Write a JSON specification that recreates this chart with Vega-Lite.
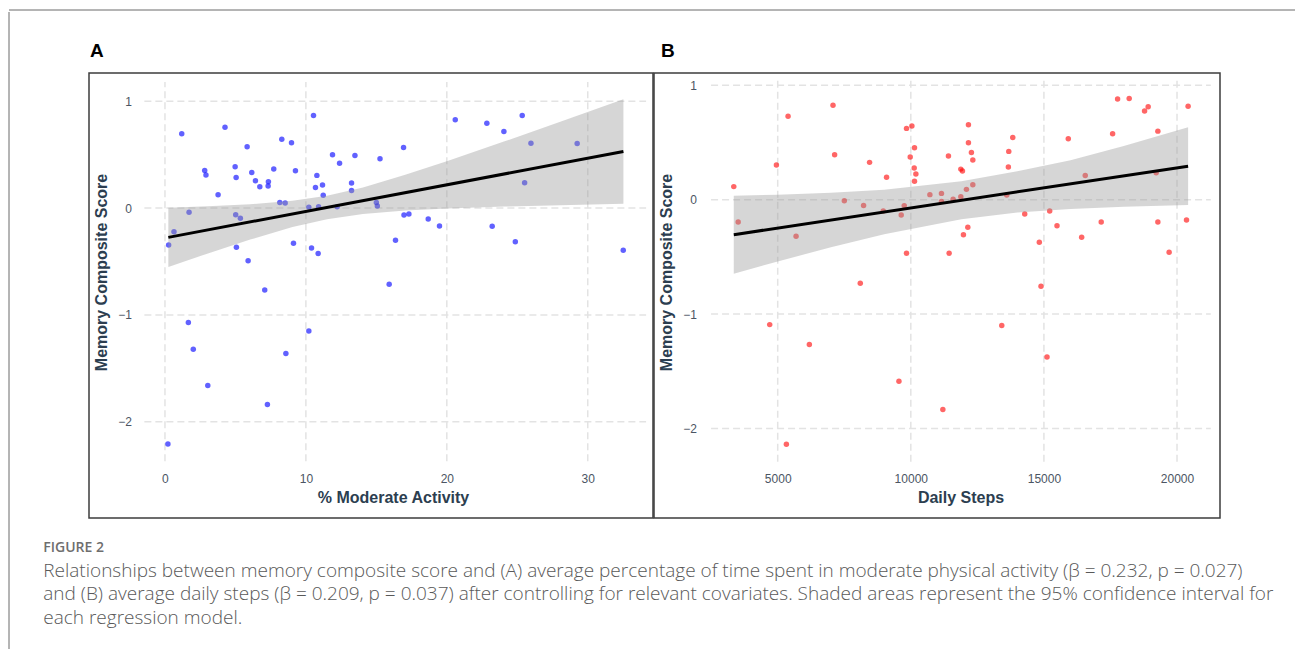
{
  "$schema": "https://vega.github.io/schema/vega-lite/v6.json",
  "padding": {"left": 8, "top": 9, "right": 0, "bottom": 0},
  "background": "white",
  "spacing": 0,
  "datasets": {
    "ptsA": [
      {"x":1.19,"y":0.695},{"x":4.26,"y":0.757},{"x":5.83,"y":0.574},{"x":8.29,"y":0.645},{"x":8.98,"y":0.611},{"x":10.54,"y":0.866},{"x":11.89,"y":0.499},{"x":13.48,"y":0.493},{"x":12.39,"y":0.42},{"x":15.26,"y":0.461},{"x":2.82,"y":0.352},{"x":2.91,"y":0.309},{"x":4.98,"y":0.387},{"x":5.05,"y":0.287},{"x":6.16,"y":0.334},{"x":6.42,"y":0.256},{"x":6.73,"y":0.2},{"x":7.34,"y":0.247},{"x":7.32,"y":0.206},{"x":7.72,"y":0.365},{"x":9.26,"y":0.35},{"x":10.78,"y":0.306},{"x":10.68,"y":0.193},{"x":11.18,"y":0.215},{"x":11.23,"y":0.121},{"x":13.24,"y":0.234},{"x":13.24,"y":0.165},{"x":3.77,"y":0.125},{"x":8.15,"y":0.053},{"x":8.53,"y":0.047},{"x":10.21,"y":0.009},{"x":10.9,"y":0.013},{"x":12.22,"y":0.013},{"x":15.0,"y":0.053},{"x":15.07,"y":0.019},{"x":1.71,"y":-0.04},{"x":0.64,"y":-0.221},{"x":0.26,"y":-0.346},{"x":5.02,"y":-0.062},{"x":5.35,"y":-0.096},{"x":5.07,"y":-0.367},{"x":5.9,"y":-0.492},{"x":9.12,"y":-0.33},{"x":10.4,"y":-0.374},{"x":10.87,"y":-0.426},{"x":16.93,"y":0.567},{"x":20.6,"y":0.826},{"x":22.84,"y":0.794},{"x":24.05,"y":0.717},{"x":25.35,"y":0.866},{"x":25.97,"y":0.607},{"x":29.25,"y":0.605},{"x":25.52,"y":0.237},{"x":16.96,"y":-0.065},{"x":17.31,"y":-0.056},{"x":18.68,"y":-0.103},{"x":19.48,"y":-0.168},{"x":16.36,"y":-0.302},{"x":23.22,"y":-0.171},{"x":24.86,"y":-0.314},{"x":32.52,"y":-0.395},{"x":7.08,"y":-0.766},{"x":1.66,"y":-1.071},{"x":10.21,"y":-1.15},{"x":2.01,"y":-1.32},{"x":8.58,"y":-1.361},{"x":3.04,"y":-1.66},{"x":7.27,"y":-1.838},{"x":0.21,"y":-2.208},{"x":15.91,"y":-0.713}
    ],
    "bandA": [
      {"x":0.24,"lo":-0.551,"hi":0.003},{"x":3.05,"lo":-0.424,"hi":0.016},{"x":6.05,"lo":-0.295,"hi":0.035},{"x":9.05,"lo":-0.178,"hi":0.068},{"x":11.5,"lo":-0.104,"hi":0.116},{"x":14.05,"lo":-0.055,"hi":0.193},{"x":17.05,"lo":-0.023,"hi":0.311},{"x":20.05,"lo":-0.004,"hi":0.441},{"x":24.05,"lo":0.014,"hi":0.622},{"x":28.05,"lo":0.027,"hi":0.807},{"x":32.53,"lo":0.041,"hi":1.019}
    ],
    "lineA": [{"x":0.24,"y":-0.274},{"x":32.53,"y":0.53}],
    "ptsB": [
      {"x":3350,"y":0.114},{"x":3515,"y":-0.196},{"x":4951,"y":0.302},{"x":5390,"y":0.73},{"x":5690,"y":-0.32},{"x":7078,"y":0.826},{"x":7138,"y":0.393},{"x":7502,"y":-0.009},{"x":8226,"y":-0.05},{"x":8451,"y":0.326},{"x":9089,"y":0.195},{"x":8965,"y":-0.1},{"x":9640,"y":-0.134},{"x":9753,"y":-0.052},{"x":9839,"y":0.623},{"x":10041,"y":0.643},{"x":10139,"y":0.454},{"x":9978,"y":0.372},{"x":10128,"y":0.276},{"x":10191,"y":0.224},{"x":10139,"y":0.16},{"x":9839,"y":-0.469},{"x":10717,"y":0.044},{"x":11152,"y":0.055},{"x":11152,"y":-0.015},{"x":8102,"y":-0.731},{"x":12165,"y":0.655},{"x":11414,"y":0.381},{"x":12165,"y":0.498},{"x":12277,"y":0.413},{"x":12330,"y":0.346},{"x":11879,"y":0.267},{"x":11940,"y":0.25},{"x":13830,"y":0.544},{"x":13680,"y":0.422},{"x":13665,"y":0.285},{"x":12330,"y":0.131},{"x":12090,"y":0.09},{"x":11590,"y":0.003},{"x":11879,"y":0.026},{"x":13605,"y":0.04},{"x":14280,"y":-0.126},{"x":15218,"y":-0.1},{"x":15492,"y":-0.227},{"x":14828,"y":-0.373},{"x":16418,"y":-0.329},{"x":17153,"y":-0.196},{"x":12142,"y":-0.242},{"x":11977,"y":-0.306},{"x":11440,"y":-0.469},{"x":15916,"y":0.533},{"x":16553,"y":0.212},{"x":17581,"y":0.576},{"x":17768,"y":0.879},{"x":18204,"y":0.885},{"x":18781,"y":0.774},{"x":18917,"y":0.812},{"x":19281,"y":0.599},{"x":19217,"y":0.236},{"x":19281,"y":-0.196},{"x":19704,"y":-0.46},{"x":20417,"y":0.817},{"x":20357,"y":-0.178},{"x":4700,"y":-1.092},{"x":6189,"y":-1.266},{"x":9554,"y":-1.587},{"x":11204,"y":-1.834},{"x":5326,"y":-2.137},{"x":14891,"y":-0.757},{"x":13417,"y":-1.1},{"x":15117,"y":-1.375}
    ],
    "bandB": [
      {"x":3350,"lo":-0.647,"hi":0.035},{"x":5000,"lo":-0.54,"hi":0.044},{"x":7000,"lo":-0.416,"hi":0.06},{"x":9000,"lo":-0.302,"hi":0.086},{"x":11900,"lo":-0.172,"hi":0.16},{"x":14000,"lo":-0.113,"hi":0.249},{"x":16000,"lo":-0.081,"hi":0.345},{"x":18000,"lo":-0.062,"hi":0.47},{"x":20417,"lo":-0.047,"hi":0.633}
    ],
    "lineB": [{"x":3350,"y":-0.306},{"x":20417,"y":0.293}]
  },
  "vconcat": [
    {
      "width": 1287, "height": 1,
      "data": {"values": [{}]},
      "mark": {"type": "rule", "color": "#6a6a6a", "strokeWidth": 1},
      "encoding": {"y": {"datum": 1, "type": "quantitative", "scale": {"domain": [0, 1]}, "axis": null}}
    },
    {
      "spacing": 33,
      "hconcat": [
        {
          "width": 1, "height": 640,
          "data": {"values": [{}]},
          "mark": {"type": "rule", "color": "#6a6a6a", "strokeWidth": 1},
          "encoding": {"x": {"datum": 0, "type": "quantitative", "scale": {"domain": [0, 1]}, "axis": null}}
        },
        {
          "spacing": 28,
          "title": {
            "text": "FIGURE 2",
            "subtitle": [
              "Relationships between memory composite score and (A) average percentage of time spent in moderate physical activity (β = 0.232, p = 0.027)",
              "and (B) average daily steps (β = 0.209, p = 0.037) after controlling for relevant covariates. Shaded areas represent the 95% confidence interval for",
              "each regression model."
            ],
            "orient": "bottom", "anchor": "start", "frame": "bounds", "dx": -45, "offset": 22,
            "font": "Open Sans", "fontSize": 14, "fontWeight": 600, "color": "#6e6e6e",
            "subtitleFont": "Open Sans", "subtitleFontSize": 19, "subtitleFontWeight": 300, "subtitleColor": "#595959",
            "subtitleLineHeight": 23.5, "subtitlePadding": 7
          },
          "vconcat": [
            {
              "width": 1, "height": 1,
              "data": {"values": []},
              "mark": {"type": "point", "opacity": 0},
              "encoding": {}
            },
            {
              "spacing": -2,
              "hconcat": [
                {
                  "width": 564, "height": 445,
                  "view": {"stroke": "#3d3d3d", "strokeWidth": 1.5},
                  "title": {"text": "A", "anchor": "start", "frame": "group", "dx": 1, "offset": -3, "baseline": "alphabetic", "fontSize": 19, "fontWeight": "bold", "font": "Liberation Sans", "color": "#000000"},
                  "layer": [
                    {
                      "data": {"values": [{"v": -2}, {"v": -1}, {"v": 0}, {"v": 1}]},
                      "mark": {"type": "rule", "color": "#e3e3e3", "strokeWidth": 1.5, "strokeDash": [7, 4]},
                      "encoding": {
                        "y": {"field": "v", "type": "quantitative", "scale": {"domain": [-2.9, 1.264], "nice": false, "zero": false},
                              "axis": {"title": "Memory Composite Score", "values": [-2, -1, 0, 1], "format": "d", "offset": -42.5, "titleX": -22.5, "titleY": 199, "titleAngle": 270, "titleBaseline": "bottom", "labels": true}},
                        "x": {"datum": -1.46, "type": "quantitative", "scale": {"domain": [-5.39, 34.63], "nice": false, "zero": false}},
                        "x2": {"datum": 34.14}
                      }
                    },
                    {
                      "data": {"values": [{"v": 0}, {"v": 10}, {"v": 20}, {"v": 30}]},
                      "mark": {"type": "rule", "color": "#e3e3e3", "strokeWidth": 1.5, "strokeDash": [7, 4]},
                      "encoding": {
                        "x": {"field": "v", "type": "quantitative",
                              "axis": {"title": "% Moderate Activity", "values": [0, 10, 20, 30], "format": "d", "offset": -44.7, "titlePadding": 5, "titleX": 304, "labels": true}},
                        "y": {"datum": -2.37, "type": "quantitative"},
                        "y2": {"datum": 1.18}
                      }
                    },
                    {
                      "data": {"name": "ptsA"},
                      "mark": {"type": "circle", "color": "#0000ff", "opacity": 0.62, "size": 30},
                      "encoding": {
                        "x": {"field": "x", "type": "quantitative"},
                        "y": {"field": "y", "type": "quantitative"}
                      }
                    },
                    {
                      "data": {"name": "bandA"},
                      "mark": {"type": "area", "color": "#999999", "opacity": 0.4},
                      "encoding": {
                        "x": {"field": "x", "type": "quantitative"},
                        "y": {"field": "lo", "type": "quantitative"},
                        "y2": {"field": "hi"}
                      }
                    },
                    {
                      "data": {"name": "lineA"},
                      "mark": {"type": "line", "color": "#000000", "strokeWidth": 3},
                      "encoding": {
                        "x": {"field": "x", "type": "quantitative"},
                        "y": {"field": "y", "type": "quantitative"}
                      }
                    }
                  ]
                },
                {
                  "width": 566, "height": 445,
                  "view": {"stroke": "#3d3d3d", "strokeWidth": 1.5},
                  "title": {"text": "B", "anchor": "start", "frame": "group", "dx": 7, "offset": -3, "baseline": "alphabetic", "fontSize": 19, "fontWeight": "bold", "font": "Liberation Sans", "color": "#000000"},
                  "layer": [
                    {
                      "data": {"values": [{"v": -2}, {"v": -1}, {"v": 0}, {"v": 1}]},
                      "mark": {"type": "rule", "color": "#e3e3e3", "strokeWidth": 1.5, "strokeDash": [7, 4]},
                      "encoding": {
                        "y": {"field": "v", "type": "quantitative", "scale": {"domain": [-2.782, 1.107], "nice": false, "zero": false},
                              "axis": {"title": "Memory Composite Score", "values": [-2, -1, 0, 1], "format": "d", "offset": -42.5, "titleX": -22.5, "titleY": 199, "titleAngle": 270, "titleBaseline": "bottom", "labels": true}},
                        "x": {"datum": 2497, "type": "quantitative", "scale": {"domain": [353, 21615], "nice": false, "zero": false}},
                        "x2": {"datum": 21270}
                      }
                    },
                    {
                      "data": {"values": [{"v": 5000}, {"v": 10000}, {"v": 15000}, {"v": 20000}]},
                      "mark": {"type": "rule", "color": "#e3e3e3", "strokeWidth": 1.5, "strokeDash": [7, 4]},
                      "encoding": {
                        "x": {"field": "v", "type": "quantitative",
                              "axis": {"title": "Daily Steps", "values": [5000, 10000, 15000, 20000], "format": "d", "offset": -44.7, "titlePadding": 5, "titleX": 306.5, "labels": true}},
                        "y": {"datum": -2.29, "type": "quantitative"},
                        "y2": {"datum": 1.04}
                      }
                    },
                    {
                      "data": {"name": "ptsB"},
                      "mark": {"type": "circle", "color": "#ff0000", "opacity": 0.6, "size": 30},
                      "encoding": {
                        "x": {"field": "x", "type": "quantitative"},
                        "y": {"field": "y", "type": "quantitative"}
                      }
                    },
                    {
                      "data": {"name": "bandB"},
                      "mark": {"type": "area", "color": "#999999", "opacity": 0.4},
                      "encoding": {
                        "x": {"field": "x", "type": "quantitative"},
                        "y": {"field": "lo", "type": "quantitative"},
                        "y2": {"field": "hi"}
                      }
                    },
                    {
                      "data": {"name": "lineB"},
                      "mark": {"type": "line", "color": "#000000", "strokeWidth": 3},
                      "encoding": {
                        "x": {"field": "x", "type": "quantitative"},
                        "y": {"field": "y", "type": "quantitative"}
                      }
                    }
                  ]
                }
              ]
            }
          ]
        }
      ]
    }
  ],
  "config": {
    "view": {"stroke": null},
    "axis": {
      "domain": false, "ticks": false, "tickSize": 0, "grid": false, "labelPadding": 0,
      "labelFont": "Liberation Sans", "labelFontSize": 12, "labelColor": "#4b5563",
      "titleFont": "Liberation Sans", "titleFontSize": 16, "titleFontWeight": "bold", "titleColor": "#2c3e50"
    }
  }
}
